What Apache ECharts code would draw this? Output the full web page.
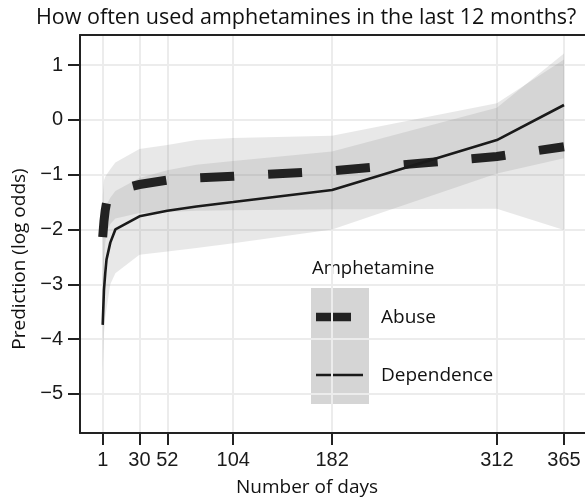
<!DOCTYPE html>
<html>
<head>
<meta charset="utf-8">
<script src="https://cdn.jsdelivr.net/npm/echarts@6/dist/echarts.min.js"></script>
<style>html,body{margin:0;padding:0;background:#fff}#c{width:585px;height:501px}</style>
</head>
<body>
<div id="c"></div>
<script>
// ---- data ----
var days       = [1, 2, 3, 4, 7, 11, 30, 52, 75, 104, 182, 312, 365];
var abuse      = [-2.14, -1.85, -1.65, -1.52, -1.37, -1.29, -1.18, -1.10, -1.06, -1.03, -0.93, -0.67, -0.49];
var abuseLow   = [-3.2, -2.6, -2.25, -2.05, -1.9, -1.8, -1.70, -1.68, -1.66, -1.65, -1.63, -1.62, -2.01];
var abuseHigh  = [-1.4, -1.1, -1.04, -1.0, -0.9, -0.78, -0.53, -0.46, -0.37, -0.33, -0.29, 0.30, 1.10];
var dependence = [-3.74, -3.1, -2.8, -2.55, -2.24, -2.0, -1.76, -1.66, -1.58, -1.50, -1.28, -0.37, 0.27];
var depLow     = [-4.6, -3.9, -3.6, -3.45, -3.0, -2.8, -2.46, -2.40, -2.34, -2.25, -2.0, -0.98, -0.70];
var depHigh    = [-2.9, -2.0, -1.65, -1.55, -1.42, -1.3, -1.06, -0.92, -0.82, -0.75, -0.58, 0.22, 1.21];
var xTicks     = [1, 30, 52, 104, 182, 312, 365];
var yTicks     = [-5, -4, -3, -2, -1, 0, 1];
var titleText  = 'How often used amphetamines in the last 12 months?';
var xTitle     = 'Number of days';
var yTitle     = 'Prediction (log odds)';
var legendTitle = 'Amphetamine';
var seriesNames = ['Abuse', 'Dependence'];

function pairs(xs, ys) { return xs.map(function (x, i) { return [x, ys[i]]; }); }
function triples(xs, lo, hi) { return xs.map(function (x, i) { return [x, lo[i], hi[i]]; }); }

var HUMAN = '"Open Sans", "Noto Sans", sans-serif';
var TICKF = '"Liberation Sans", Arial, sans-serif';
var BAND = 'rgba(128,128,128,0.18)';
var INK = '#222222';

var chart = echarts.init(document.getElementById('c'), null, { renderer: 'canvas' });

function ribbonSeries(lo, hi) {
  return {
    type: 'custom', silent: true, z: 1, clip: true,
    data: triples(days, lo, hi),
    renderItem: function (params, api) {
      if (params.dataIndexInside !== 0) return null;
      var n = params.dataInsideLength, top = [], bot = [];
      for (var i = 0; i < n; i++) {
        var x = api.value(0, i);
        bot.push(api.coord([x, api.value(1, i)]));
        top.push(api.coord([x, api.value(2, i)]));
      }
      var pts = bot.concat(top.reverse());
      return { type: 'polygon', shape: { points: pts }, style: { fill: BAND } };
    }
  };
}

var option = {
  animation: false,
  backgroundColor: '#ffffff',
  title: {
    text: titleText, left: 31, top: 2,
    textStyle: { fontFamily: HUMAN, fontSize: 21.5, fontWeight: 'normal', color: '#111' }
  },
  grid: { left: 80, right: 0, top: 35, bottom: 68, containLabel: false },
  xAxis: [{
    type: 'value', min: -16.91, max: 381.57,
    axisLine: { show: true, onZero: false, lineStyle: { color: INK, width: 2 } },
    axisTick: { show: true, length: 12, customValues: xTicks, lineStyle: { color: INK, width: 2 } },
    axisLabel: { customValues: xTicks, margin: 17, fontFamily: TICKF, fontSize: 20, color: '#1a1a1a' },
    splitLine: { show: true, lineStyle: { color: '#ececec', width: 2 } }
  }, {
    type: 'value', position: 'top', min: -16.91, max: 381.57,
    axisLine: { show: true, onZero: false, lineStyle: { color: INK, width: 2 } },
    axisTick: { show: false }, axisLabel: { show: false }, splitLine: { show: false }
  }],
  yAxis: {
    type: 'value', min: -5.712, max: 1.547,
    axisLine: { show: true, onZero: false, lineStyle: { color: INK, width: 2 } },
    axisTick: { show: true, length: 12, customValues: yTicks, lineStyle: { color: INK, width: 2 } },
    axisLabel: { customValues: yTicks, margin: 17, fontFamily: TICKF, fontSize: 20, color: '#1a1a1a',
      formatter: function (v) { return String(v).replace('-', '\u2212'); } },
    splitLine: { show: true, lineStyle: { color: '#ececec', width: 2 } }
  },
  series: [
    ribbonSeries(abuseLow, abuseHigh),
    ribbonSeries(depLow, depHigh),
    {
      name: seriesNames[0], type: 'line', data: pairs(days, abuse), symbol: 'none', z: 3,
      lineStyle: { color: INK, width: 9, type: [34, 34], cap: 'butt', join: 'miter' }
    }, {
      name: seriesNames[1], type: 'line', data: pairs(days, dependence), symbol: 'none', z: 4,
      lineStyle: { color: '#1a1a1a', width: 2.6 }
    }
  ],
  graphic: [
    { type: 'text', x: 307, y: 488, style: { text: xTitle, font: '19px ' + HUMAN, fill: '#111', align: 'center', verticalAlign: 'middle' } },
    { type: 'text', x: 20, y: 259, rotation: Math.PI / 2,
      style: { text: yTitle, font: '19px ' + HUMAN, fill: '#111', align: 'center', verticalAlign: 'middle' } },
    { type: 'text', x: 312, y: 269, style: { text: legendTitle, font: '18.5px ' + HUMAN, fill: '#111', verticalAlign: 'middle' } },
    { type: 'rect', shape: { x: 311, y: 288, width: 58, height: 116 }, style: { fill: 'rgba(128,128,128,0.33)' } },
    { type: 'line', shape: { x1: 316, y1: 317, x2: 351, y2: 317 }, style: { stroke: INK, lineWidth: 8.5 } },
    { type: 'line', shape: { x1: 316, y1: 375, x2: 363, y2: 375 }, style: { stroke: '#1a1a1a', lineWidth: 2.6 } },
    { type: 'text', x: 381, y: 318, style: { text: seriesNames[0], font: '19px ' + HUMAN, fill: '#111', verticalAlign: 'middle' } },
    { type: 'text', x: 381, y: 376, style: { text: seriesNames[1], font: '19px ' + HUMAN, fill: '#111', verticalAlign: 'middle' } }
  ]
};
chart.setOption(option);
</script>
</body>
</html>
